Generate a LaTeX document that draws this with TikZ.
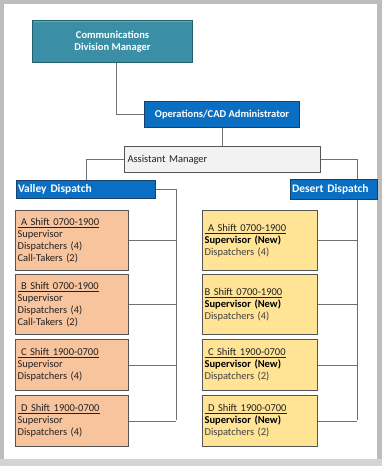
\documentclass[tikz,border=0pt]{standalone}
\usepackage{fontspec}
\setmainfont{Carlito}
\usetikzlibrary{backgrounds}
\pgfdeclarelayer{frame}
\pgfsetlayers{frame,background,main}

\definecolor{framegray}{HTML}{BDBDBD}
\definecolor{framelow}{HTML}{D4D4D4}
\definecolor{tealfill}{HTML}{3A8EA5}
\definecolor{teallight}{HTML}{5BAFC4}
\definecolor{tealline}{HTML}{23606F}
\definecolor{bluefill}{HTML}{0A6FC2}
\definecolor{blueline}{HTML}{1B3F68}
\definecolor{amfill}{HTML}{F2F2F2}
\definecolor{peach}{HTML}{F8C49E}
\definecolor{sand}{HTML}{FFE496}
\definecolor{boxline}{HTML}{555555}
\definecolor{connline}{HTML}{707070}
\definecolor{txtdark}{HTML}{222222}
\definecolor{txtsoft}{HTML}{404040}

\begin{document}
\begin{tikzpicture}[x=1pt,y=-1pt,
  base/.style={anchor=north west, line width=1.1pt, inner ysep=0pt},
  headbox/.style={base, fill=tealfill, draw=tealline, text=white, align=center,
    font=\fontsize{10.5}{11.5}\selectfont\bfseries},
  bluebox/.style={base, fill=bluefill, draw=blueline, text=white,
    font=\fontsize{10.5}{12}\selectfont\bfseries},
  areabox/.style={base, fill=bluefill, draw=blueline, text=white, align=left,
    inner xsep=1.5pt, font=\fontsize{11.5}{13}\selectfont\bfseries},
  asstbox/.style={base, fill=amfill, draw=boxline, text=txtdark, align=left,
    inner xsep=3pt, font=\fontsize{10.5}{12}\selectfont},
  shiftbox/.style={base, draw=boxline, text=txtdark, align=left,
    inner xsep=2pt, font=\fontsize{10.5}{12}\selectfont},
  valleybox/.style={shiftbox, fill=peach, text width=109pt, minimum height=#1},
  desertbox/.style={shiftbox, fill=sand, text width=111pt, minimum height=#1},
  conn/.style={draw=connline, line width=0.8pt}]

\useasboundingbox (0,0) rectangle (382,466);

% page frame
\begin{pgfonlayer}{frame}
  \fill[framegray] (0,0) rectangle (382,466);
  \fill[framelow] (0,459) rectangle (382,466);
  \fill[white] (4,4) rectangle (377,459);
\end{pgfonlayer}

% management chain
\node[headbox, minimum width=160pt, minimum height=42pt] (cdm) at (32,20)
  {Communications\\Division Manager};
\draw[teallight, line width=1.2pt]
  ([xshift=1.5pt,yshift=-1.5pt]cdm.north west) -- ([xshift=-1.5pt,yshift=-1.5pt]cdm.north east);
\node[bluebox, minimum width=155pt, minimum height=26pt] (ops) at (144,101)
  {Operations/CAD Administrator};
\node[asstbox, text width=190pt, minimum height=26pt] (am) at (124,146)
  {Assistant Manager};

% dispatch areas
\node[areabox, text width=136pt, minimum height=18pt] (vd) at (16,180) {Valley Dispatch};
\node[areabox, text width=84pt, minimum height=20pt] (dd) at (290,179) {Desert Dispatch};

% Valley shifts
\node[valleybox=60pt] (va) at (15,210)
  {\underline{\ A Shift 0700-1900}\\Supervisor\\Dispatchers (4)\\Call-Takers (2)};
\node[valleybox=60pt] (vb) at (15,274)
  {\underline{\ B Shift 0700-1900}\\Supervisor\\Dispatchers (4)\\Call-Takers (2)};
\node[valleybox=51pt] (vc) at (15,339)
  {\underline{\ C Shift 1900-0700}\\Supervisor\\Dispatchers (4)};
\node[valleybox=51pt] (vdd) at (15,395)
  {\underline{\ D Shift 1900-0700}\\Supervisor\\Dispatchers (4)};

% Desert shifts
\node[desertbox=60pt] (da) at (202,210)
  {\underline{\ A Shift 0700-1900}\\\textbf{\color{black}Supervisor (New)}\\{\color{txtsoft}Dispatchers (4)}};
\node[desertbox=60pt] (db) at (202,274)
  {\underline{B Shift 0700-1900}\\\textbf{\color{black}Supervisor (New)}\\{\color{txtsoft}Dispatchers (4)}};
\node[desertbox=51pt] (dc) at (202,339)
  {\underline{\ C Shift 1900-0700}\\\textbf{\color{black}Supervisor (New)}\\{\color{txtsoft}Dispatchers (2)}};
\node[desertbox=51pt] (ddd) at (202,395)
  {\underline{\ D Shift 1900-0700}\\\textbf{\color{black}Supervisor (New)}\\{\color{txtsoft}Dispatchers (2)}};

\coordinate (vtrunk) at (176,420);
\coordinate (dtrunk) at (357,420);

% connectors
\begin{pgfonlayer}{background}
  \draw[conn] ([xshift=4pt]cdm.south) |- (ops.west);
  \draw[conn] (ops.south) -- (ops.south |- am.north);
  \draw[conn] (am.west) -| (vd.north);
  \draw[conn] (am.east) -| (dtrunk);
  \draw[conn] (vd.east) -| (vtrunk);
  \foreach \b in {va,vb,vc,vdd}
    \draw[conn] (\b.east) -- (\b.east -| vtrunk);
  \foreach \b in {da,db,dc,ddd}
    \draw[conn] (\b.east) -- (\b.east -| dtrunk);
\end{pgfonlayer}
\end{tikzpicture}
\end{document}
